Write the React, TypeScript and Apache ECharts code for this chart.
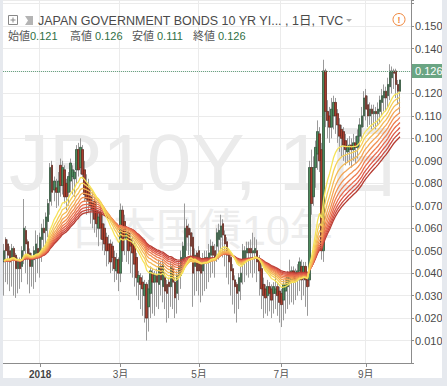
import React, { useEffect, useRef } from 'react';
import * as echarts from 'echarts';

// rows: [open, high, low, close] — JGB 10Y yield (%), daily bars
const ohlcDec2017 = [
  [0.045, 0.053, 0.030, 0.050], [0.055, 0.056, 0.036, 0.050], [0.053, 0.055, 0.035, 0.048],
  [0.050, 0.052, 0.032, 0.045], [0.046, 0.053, 0.034, 0.051], [0.051, 0.052, 0.030, 0.047],
  [0.048, 0.049, 0.029, 0.042], [0.042, 0.047, 0.031, 0.045], [0.046, 0.047, 0.033, 0.042],
  [0.043, 0.052, 0.036, 0.050], [0.050, 0.073, 0.044, 0.060], [0.059, 0.061, 0.040, 0.053],
  [0.054, 0.055, 0.035, 0.047], [0.049, 0.051, 0.031, 0.043], [0.043, 0.049, 0.034, 0.046],
  [0.046, 0.052, 0.033, 0.050], [0.048, 0.059, 0.036, 0.053], [0.051, 0.057, 0.040, 0.049],
];
const ohlcJan = [
  [0.049, 0.058, 0.038, 0.056], [0.055, 0.062, 0.045, 0.060], [0.060, 0.064, 0.048, 0.058],
  [0.059, 0.067, 0.050, 0.065], [0.063, 0.073, 0.056, 0.071], [0.072, 0.089, 0.066, 0.087],
  [0.088, 0.090, 0.070, 0.076], [0.077, 0.083, 0.072, 0.081], [0.078, 0.082, 0.069, 0.076],
  [0.076, 0.085, 0.070, 0.081], [0.088, 0.091, 0.074, 0.079], [0.079, 0.090, 0.075, 0.087],
  [0.086, 0.088, 0.071, 0.074], [0.080, 0.082, 0.068, 0.074], [0.076, 0.085, 0.070, 0.083],
  [0.081, 0.091, 0.076, 0.089], [0.083, 0.088, 0.075, 0.086], [0.082, 0.086, 0.074, 0.085],
  [0.086, 0.097, 0.080, 0.095], [0.095, 0.098, 0.083, 0.086],
];
const ohlcFeb = [
  [0.087, 0.100, 0.084, 0.096], [0.095, 0.097, 0.082, 0.084], [0.086, 0.090, 0.072, 0.075],
  [0.080, 0.084, 0.066, 0.073], [0.078, 0.082, 0.067, 0.072], [0.074, 0.078, 0.062, 0.070],
  [0.071, 0.076, 0.060, 0.068], [0.072, 0.074, 0.058, 0.064], [0.068, 0.072, 0.056, 0.062],
  [0.060, 0.068, 0.052, 0.065], [0.067, 0.070, 0.055, 0.060], [0.062, 0.066, 0.050, 0.055],
  [0.060, 0.062, 0.048, 0.053], [0.056, 0.058, 0.043, 0.050], [0.053, 0.057, 0.044, 0.050],
  [0.053, 0.055, 0.040, 0.045], [0.052, 0.054, 0.041, 0.047], [0.047, 0.050, 0.036, 0.042],
  [0.041, 0.049, 0.037, 0.046], [0.046, 0.047, 0.032, 0.040],
];
const ohlcMar = [
  [0.040, 0.071, 0.036, 0.068], [0.068, 0.070, 0.045, 0.050], [0.063, 0.066, 0.048, 0.056],
  [0.055, 0.061, 0.045, 0.058], [0.058, 0.060, 0.044, 0.050], [0.055, 0.058, 0.040, 0.052],
  [0.053, 0.056, 0.038, 0.049], [0.052, 0.054, 0.034, 0.044], [0.047, 0.049, 0.030, 0.038],
  [0.036, 0.041, 0.028, 0.039], [0.038, 0.040, 0.024, 0.035], [0.036, 0.039, 0.021, 0.033],
  [0.030, 0.037, 0.018, 0.035], [0.035, 0.036, 0.010, 0.020], [0.025, 0.037, 0.014, 0.033],
  [0.031, 0.043, 0.020, 0.041], [0.040, 0.042, 0.022, 0.036], [0.036, 0.041, 0.021, 0.039],
  [0.039, 0.042, 0.025, 0.036], [0.035, 0.046, 0.024, 0.043],
];
const ohlcApr = [
  [0.043, 0.045, 0.030, 0.037], [0.034, 0.046, 0.027, 0.044], [0.038, 0.040, 0.024, 0.032],
  [0.035, 0.037, 0.018, 0.031], [0.036, 0.038, 0.020, 0.034], [0.034, 0.045, 0.025, 0.043],
  [0.042, 0.044, 0.024, 0.036], [0.036, 0.038, 0.020, 0.029], [0.031, 0.041, 0.022, 0.039],
  [0.039, 0.045, 0.028, 0.043], [0.039, 0.050, 0.033, 0.047], [0.046, 0.054, 0.040, 0.052],
  [0.047, 0.071, 0.044, 0.060], [0.061, 0.064, 0.050, 0.056], [0.060, 0.062, 0.048, 0.057],
  [0.058, 0.060, 0.045, 0.052], [0.056, 0.058, 0.025, 0.040], [0.043, 0.051, 0.030, 0.048],
  [0.049, 0.050, 0.032, 0.041],
];
const ohlcMay = [
  [0.050, 0.052, 0.030, 0.041], [0.045, 0.047, 0.027, 0.040], [0.041, 0.049, 0.030, 0.045],
  [0.045, 0.050, 0.032, 0.047], [0.047, 0.050, 0.033, 0.045], [0.045, 0.053, 0.036, 0.049],
  [0.048, 0.055, 0.038, 0.052], [0.052, 0.054, 0.040, 0.048], [0.050, 0.053, 0.038, 0.047],
  [0.052, 0.060, 0.045, 0.058], [0.055, 0.062, 0.046, 0.059], [0.056, 0.066, 0.048, 0.061],
  [0.062, 0.064, 0.047, 0.057], [0.057, 0.059, 0.043, 0.053], [0.054, 0.056, 0.038, 0.048],
  [0.049, 0.051, 0.035, 0.045], [0.047, 0.049, 0.030, 0.041], [0.042, 0.044, 0.026, 0.037],
  [0.037, 0.039, 0.022, 0.034], [0.035, 0.036, 0.018, 0.031],
];
const ohlcJun = [
  [0.032, 0.040, 0.024, 0.038], [0.036, 0.043, 0.028, 0.040], [0.044, 0.053, 0.035, 0.050],
  [0.046, 0.052, 0.036, 0.050], [0.049, 0.054, 0.039, 0.051], [0.051, 0.054, 0.038, 0.049],
  [0.051, 0.055, 0.040, 0.049], [0.049, 0.058, 0.038, 0.050], [0.049, 0.056, 0.040, 0.051],
  [0.050, 0.055, 0.036, 0.045], [0.046, 0.048, 0.030, 0.041], [0.042, 0.045, 0.024, 0.033],
  [0.035, 0.038, 0.020, 0.030], [0.033, 0.035, 0.022, 0.029], [0.030, 0.037, 0.021, 0.034],
  [0.034, 0.036, 0.023, 0.031], [0.033, 0.035, 0.020, 0.028], [0.031, 0.036, 0.022, 0.034],
  [0.031, 0.041, 0.024, 0.033], [0.034, 0.036, 0.021, 0.030], [0.032, 0.034, 0.018, 0.027],
];
const ohlcJul = [
  [0.031, 0.033, 0.016, 0.026], [0.028, 0.037, 0.019, 0.035], [0.032, 0.038, 0.022, 0.035],
  [0.034, 0.041, 0.024, 0.039], [0.036, 0.046, 0.026, 0.039], [0.037, 0.043, 0.027, 0.041],
  [0.041, 0.043, 0.026, 0.036], [0.040, 0.042, 0.028, 0.037], [0.037, 0.044, 0.030, 0.041],
  [0.041, 0.047, 0.032, 0.045], [0.043, 0.046, 0.028, 0.037], [0.038, 0.045, 0.030, 0.043],
  [0.043, 0.045, 0.025, 0.037], [0.037, 0.040, 0.021, 0.034], [0.037, 0.090, 0.034, 0.087],
  [0.087, 0.095, 0.066, 0.071], [0.074, 0.092, 0.070, 0.087], [0.087, 0.099, 0.078, 0.096],
  [0.093, 0.108, 0.086, 0.103], [0.102, 0.105, 0.085, 0.090], [0.095, 0.098, 0.046, 0.050],
];
const ohlcAug = [
  [0.050, 0.135, 0.045, 0.130], [0.130, 0.131, 0.105, 0.112], [0.112, 0.117, 0.100, 0.108],
  [0.110, 0.114, 0.098, 0.105], [0.105, 0.118, 0.100, 0.113], [0.110, 0.119, 0.104, 0.116],
  [0.116, 0.118, 0.102, 0.110], [0.111, 0.113, 0.098, 0.106], [0.106, 0.109, 0.094, 0.101],
  [0.104, 0.106, 0.092, 0.100], [0.103, 0.105, 0.090, 0.097], [0.099, 0.102, 0.088, 0.095],
  [0.094, 0.100, 0.089, 0.096], [0.095, 0.101, 0.088, 0.097], [0.097, 0.100, 0.087, 0.095],
  [0.095, 0.102, 0.090, 0.098], [0.098, 0.101, 0.089, 0.096], [0.096, 0.104, 0.091, 0.101],
  [0.101, 0.109, 0.096, 0.106], [0.105, 0.114, 0.099, 0.110], [0.110, 0.121, 0.105, 0.118],
];
const ohlcSep = [
  [0.119, 0.122, 0.108, 0.113], [0.115, 0.119, 0.105, 0.110], [0.110, 0.116, 0.106, 0.113],
  [0.113, 0.115, 0.104, 0.111], [0.111, 0.115, 0.105, 0.112], [0.112, 0.114, 0.104, 0.111],
  [0.111, 0.116, 0.106, 0.113], [0.112, 0.119, 0.107, 0.117], [0.116, 0.122, 0.110, 0.119],
  [0.118, 0.124, 0.112, 0.121], [0.121, 0.123, 0.112, 0.118], [0.119, 0.127, 0.114, 0.124],
  [0.123, 0.133, 0.117, 0.130], [0.127, 0.132, 0.120, 0.130], [0.130, 0.131, 0.122, 0.129],
  [0.130, 0.131, 0.118, 0.124], [0.124, 0.126, 0.115, 0.121], [0.121, 0.126, 0.111, 0.126],
];

const monthBlocks = [ohlcDec2017, ohlcJan, ohlcFeb, ohlcMar, ohlcApr, ohlcMay, ohlcJun, ohlcJul, ohlcAug, ohlcSep];
const monthTickLabels = ['', '2018', '', '3月', '', '5月', '', '7月', '', '9月'];
const rightPadBars = 5;

// EMA ribbon (fast -> slow)
const emaPeriods = [15, 19, 23, 27, 31, 35, 39, 43, 47, 51];
const emaColors = ['#f6e35a', '#f5cf58', '#f4bb56', '#f3a655', '#f19253', '#ed7e51', '#e76b4d', '#dc5948', '#cb4a40', '#b63c32'];
const emaSeed = 0.045;

const legendLabels = ['始値', '高値', '安値', '終値'];
const title = 'JAPAN GOVERNMENT BONDS 10 YR YI... , 1日, TVC';
const watermarkMain = 'JP10Y, 1日';
const watermarkSub = '日本国債10年';

const W = 447;
const H = 386;
const FONT = '"Liberation Sans", "Noto Sans CJK JP", sans-serif';

export default function App() {
  const ref = useRef<HTMLDivElement>(null);
  useEffect(() => {
    if (!ref.current) return;
    const chart = echarts.init(ref.current, undefined, { renderer: 'svg', width: W, height: H });
    const rows = monthBlocks.flat();
    const starts: number[] = [];
    let acc = 0;
    monthBlocks.forEach((m) => { starts.push(acc); acc += m.length; });
    const labelAt: Record<number, string> = {};
    monthBlocks.forEach((_, k) => { if (monthTickLabels[k]) labelAt[starts[k]] = monthTickLabels[k]; });
    const isTick = (i: number) => labelAt[i] !== undefined;
    const cats = Array.from({ length: rows.length + rightPadBars }, (_, i) => String(i));
    const wickData = rows.map(([o, h, l, c]) => [o, c, l, h]);
    const bodyData = rows.map(([o, , , c]) => [o, c, Math.min(o, c), Math.max(o, c)]);
    const closes = rows.map((r) => r[3]);
    const last = rows[rows.length - 1];

    const emaSeries: any[] = [];
    for (let k = emaPeriods.length - 1; k >= 0; k--) {
      const a = 2 / (emaPeriods[k] + 1);
      let e = emaSeed;
      const d = closes.map((c) => (e = e + a * (c - e)));
      emaSeries.push({
        type: 'line', data: d, symbol: 'none', showSymbol: false, silent: true,
        lineStyle: { color: emaColors[k], width: 1.3 }, z: 10,
      });
    }

    const legendX = [8, 70, 132, 193];
    const valueX = [30, 95, 157, 218];
    const legendVals = [last[0], last[1], last[2], last[3]];

    chart.setOption({
      animation: false,
      backgroundColor: '#ffffff',
      textStyle: { fontFamily: FONT },
      grid: { left: 3, right: 36, top: 0, bottom: 23 },
      xAxis: {
        type: 'category', data: cats, boundaryGap: true,
        axisLine: { show: true, lineStyle: { color: '#8c8c8c' } },
        axisTick: { show: true, interval: (i: number) => isTick(i), alignWithLabel: true, length: 4, lineStyle: { color: '#8c8c8c' } },
        axisLabel: {
          interval: (i: number) => isTick(i),
          formatter: (_v: string, i: number) => (i === starts[1] ? '{b|' + labelAt[i] + '}' : labelAt[i] || ''),
          color: '#555', fontSize: 10, margin: 6, fontFamily: FONT,
          rich: { b: { fontWeight: 'bold', color: '#444', fontSize: 10, fontFamily: FONT } },
        },
        splitLine: { show: true, interval: (i: number) => isTick(i), lineStyle: { color: '#ebebeb', width: 1 } },
      },
      yAxis: {
        type: 'value', position: 'right', min: 0, max: 0.1616, interval: 0.01,
        axisLine: { show: true, lineStyle: { color: '#8c8c8c' } },
        axisTick: { show: true, length: 3, lineStyle: { color: '#8c8c8c' } },
        axisLabel: {
          color: '#4a4a4a', fontSize: 11, margin: 4, fontFamily: FONT,
          formatter: (v: number) => (v > 0.005 && v < 0.155 ? v.toFixed(3) : ''),
        },
        splitLine: { show: true, lineStyle: { color: '#ebebeb', width: 1 } },
      },
      graphic: [
        { type: 'text', z: -5, left: 9, top: 122, style: { text: watermarkMain, font: '80px ' + FONT, fill: '#ebebeb' } },
        { type: 'text', z: -5, left: 70, top: 208, style: { text: watermarkSub, font: '43px ' + FONT, fill: '#ededed' } },
        { type: 'rect', z: 50, shape: { x: 0, y: 0, width: 3, height: H }, style: { fill: '#e6e9ee' } },
        { type: 'rect', z: 50, shape: { x: 442, y: 0, width: 5, height: H }, style: { fill: '#e6e9ee' } },
        { type: 'rect', z: 50, shape: { x: 0, y: 378, width: W, height: 8 }, style: { fill: '#e6e9ee' } },
        { type: 'rect', z: 60, shape: { x: 8.5, y: 15.5, width: 9, height: 9 }, style: { fill: 'none', stroke: '#888', lineWidth: 1 } },
        { type: 'line', z: 60, shape: { x1: 10.5, y1: 20, x2: 15.5, y2: 20 }, style: { stroke: '#888', lineWidth: 1 } },
        { type: 'line', z: 60, shape: { x1: 13, y1: 17.5, x2: 13, y2: 22.5 }, style: { stroke: '#888', lineWidth: 1 } },
        { type: 'polygon', z: 60, shape: { points: [[25, 16], [33, 16], [33, 25], [25, 25], [28, 20.5]] }, style: { fill: '#b4b4b4' } },
        { type: 'text', z: 60, x: 38, y: 21, style: { text: title, font: '12.5px ' + FONT, fill: '#4a4a4a', verticalAlign: 'middle' } },
        { type: 'polygon', z: 60, shape: { points: [[346, 19], [352, 19], [349, 22]] }, style: { fill: '#aaaaaa' } },
        { type: 'circle', z: 60, shape: { cx: 399, cy: 19.5, r: 6 }, style: { fill: 'none', stroke: '#f0883e', lineWidth: 1 } },
        { type: 'text', z: 60, x: 399, y: 19.5, style: { text: '!', font: 'bold 9px ' + FONT, fill: '#f0883e', align: 'center', verticalAlign: 'middle' } },
        ...legendLabels.map((t, k) => ({ type: 'text', z: 60, x: legendX[k], y: 36, style: { text: t, font: '11px ' + FONT, fill: '#555', verticalAlign: 'middle' } })),
        ...legendVals.map((v, k) => ({ type: 'text', z: 60, x: valueX[k], y: 36, style: { text: v.toFixed(3), font: '11px ' + FONT, fill: '#2f6f45', verticalAlign: 'middle' } })),
      ],
      series: [
        {
          type: 'candlestick', data: wickData, barWidth: 2, silent: true, z: 3,
          itemStyle: { color: '#9a9a9a', color0: '#9a9a9a', borderColor: '#9a9a9a', borderColor0: '#9a9a9a', borderWidth: 1 },
        },
        {
          type: 'candlestick', data: bodyData, barWidth: 2, silent: true, z: 4,
          itemStyle: { color: '#4b8b5c', color0: '#a83d2d', borderColor: '#2c4c36', borderColor0: '#5a2118', borderWidth: 0.6 },
          markLine: {
            silent: true, symbol: 'none', animation: false,
            data: [{ yAxis: last[3] }],
            lineStyle: { type: 'dotted', color: '#6aa583', width: 1 },
            label: {
              show: true, position: 'end', formatter: last[3].toFixed(3), distance: 1,
              backgroundColor: '#6aa583', color: '#ffffff', padding: [2, 3, 1, 3], fontSize: 11, fontFamily: FONT,
            },
          },
        },
        ...emaSeries,
      ],
    });
    return () => chart.dispose();
  }, []);
  return (
    <div style={{ position: 'fixed', left: 0, top: 0, width: W, height: H, background: '#fff' }}>
      <div ref={ref} style={{ width: W, height: H }} />
    </div>
  );
}
